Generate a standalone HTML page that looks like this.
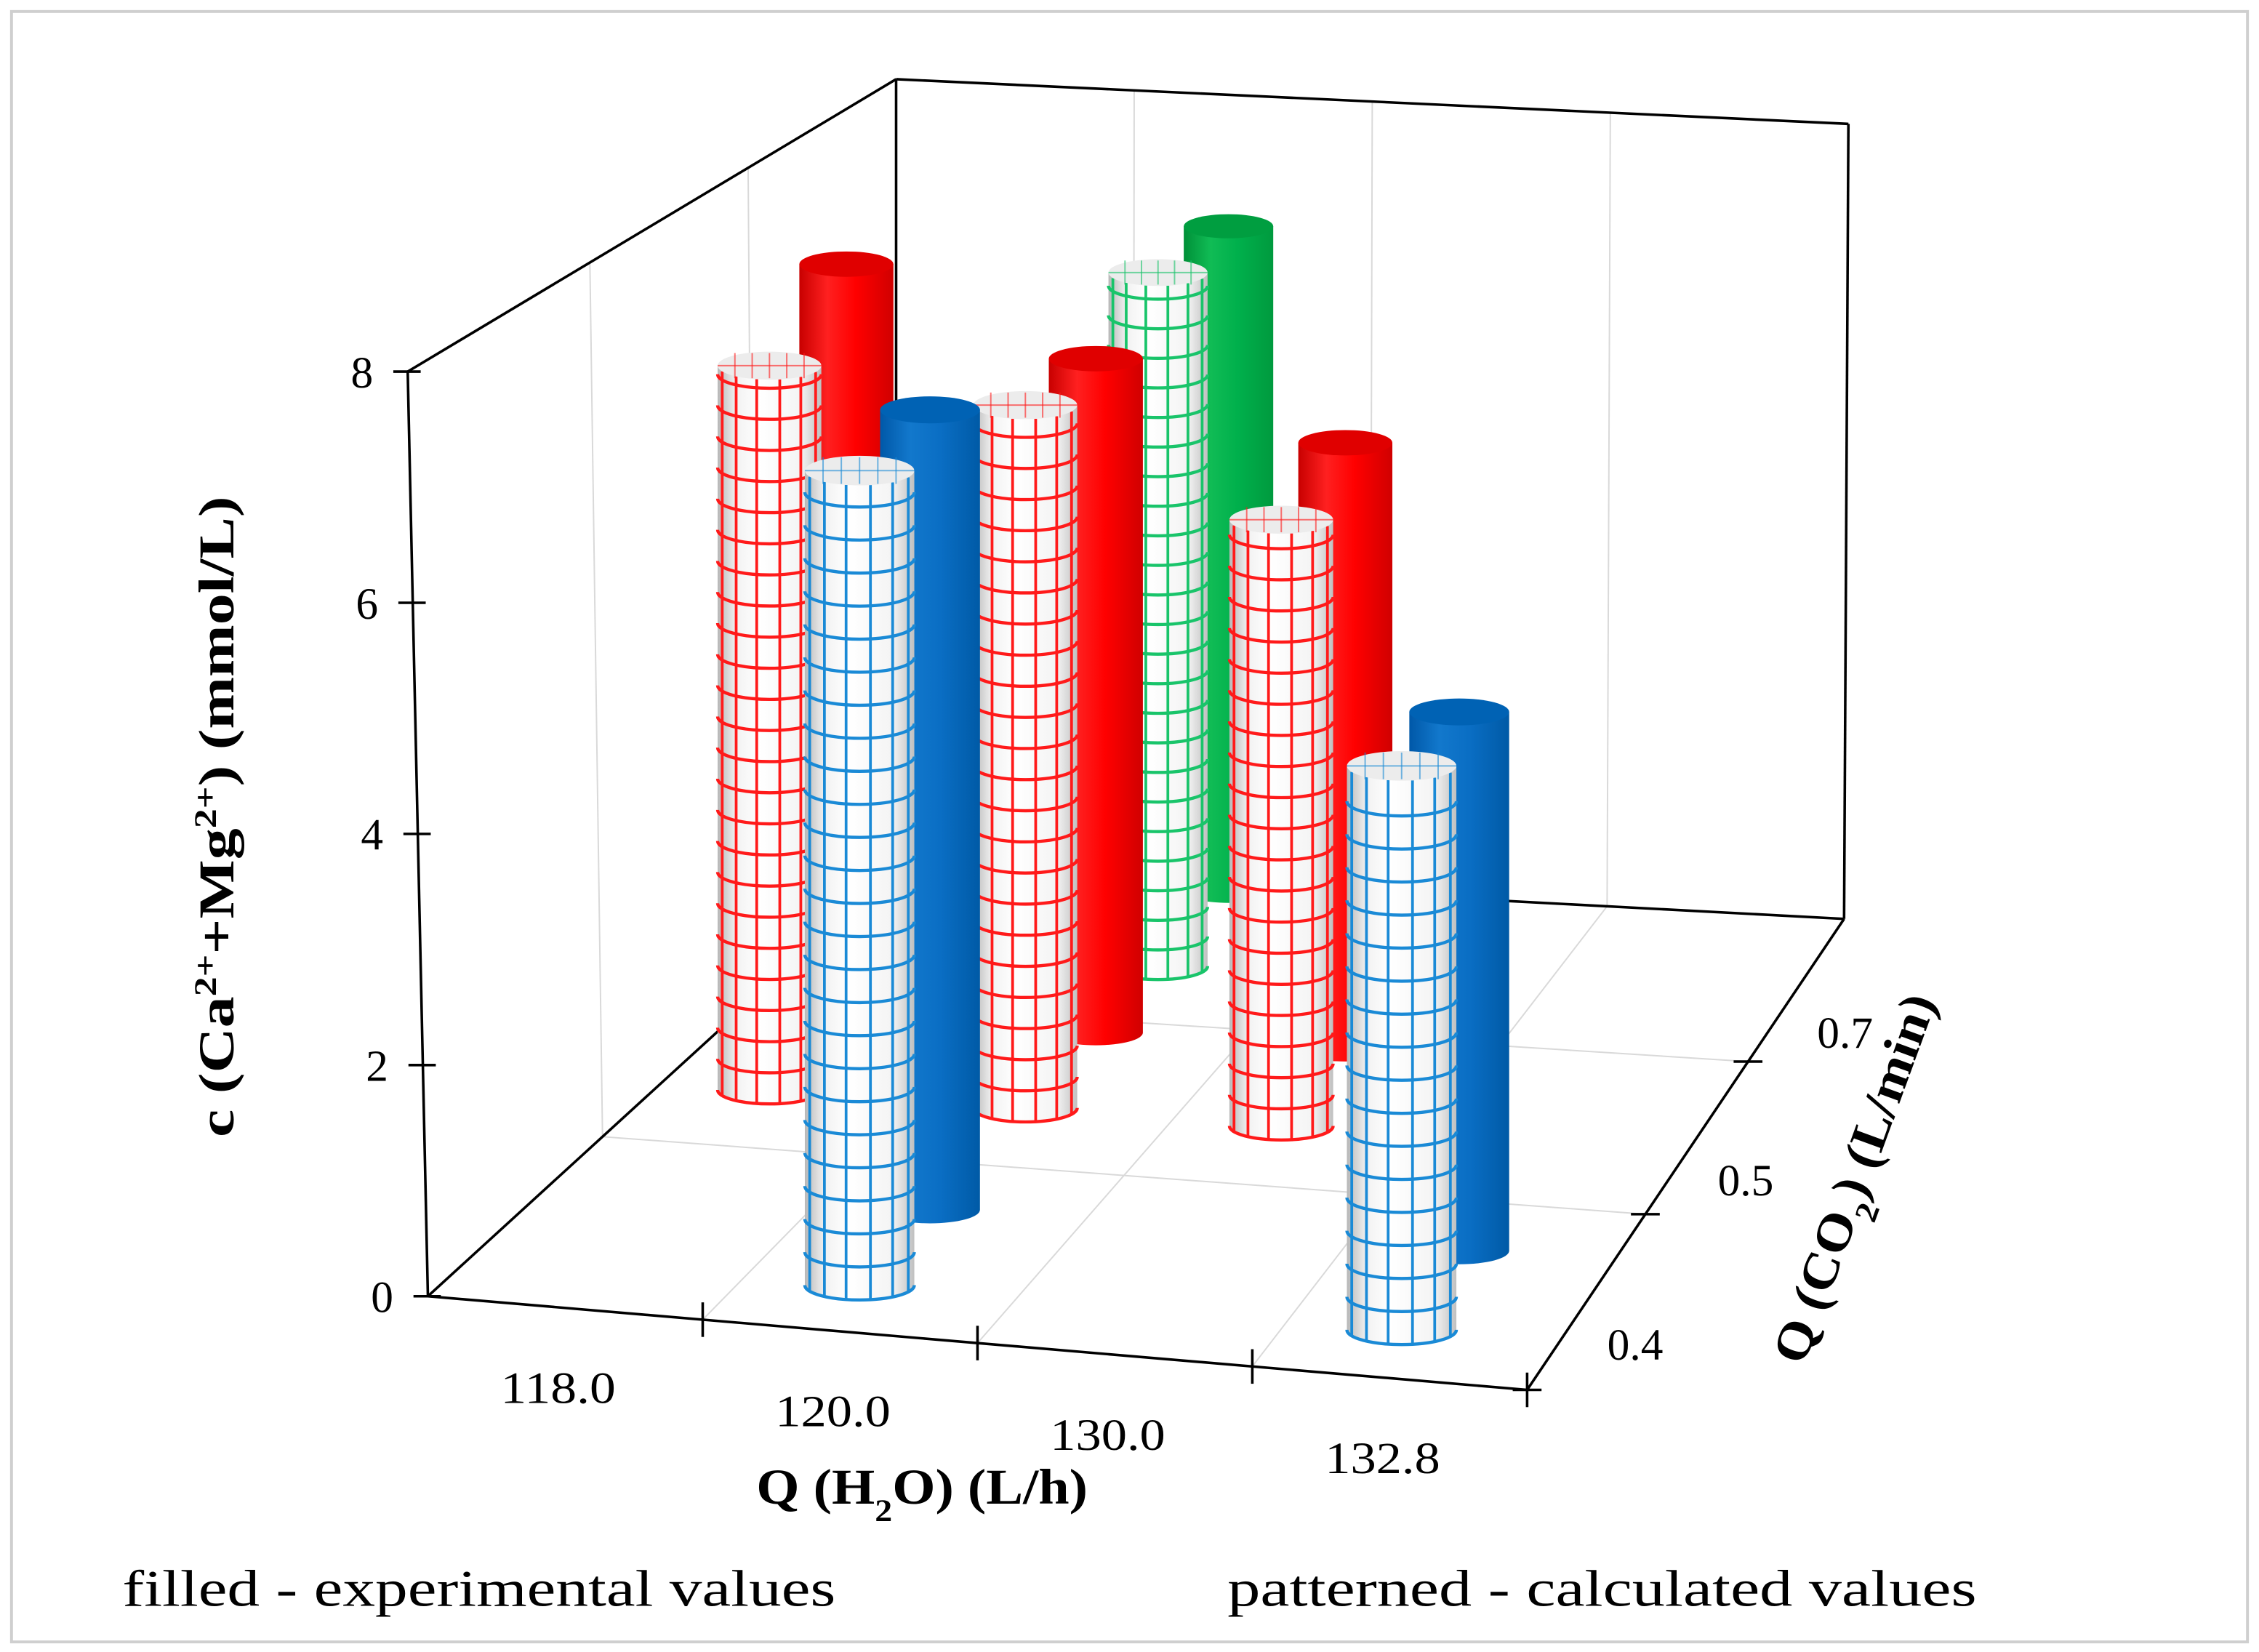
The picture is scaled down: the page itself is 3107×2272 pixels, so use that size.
<!DOCTYPE html>
<html><head><meta charset="utf-8">
<style>
html,body{margin:0;padding:0;background:#fff;}
svg{display:block;}
text{font-family:"Liberation Serif",serif;fill:#000;}
</style></head>
<body>
<svg id="chart" width="3107" height="2272" viewBox="0 0 1568 1147" preserveAspectRatio="none" xmlns="http://www.w3.org/2000/svg">
<defs>
<linearGradient id="gRed" x1="0" x2="1" y1="0" y2="0"><stop offset="0" stop-color="#c80000"/><stop offset="0.3" stop-color="#ff2020"/><stop offset="0.6" stop-color="#ff0000"/><stop offset="1" stop-color="#d00000"/></linearGradient>
<linearGradient id="gBlue" x1="0" x2="1" y1="0" y2="0"><stop offset="0" stop-color="#0058a8"/><stop offset="0.3" stop-color="#1278cc"/><stop offset="0.6" stop-color="#0a6ec4"/><stop offset="1" stop-color="#005aa6"/></linearGradient>
<linearGradient id="gGreen" x1="0" x2="1" y1="0" y2="0"><stop offset="0" stop-color="#009038"/><stop offset="0.3" stop-color="#10bc55"/><stop offset="0.6" stop-color="#00b04c"/><stop offset="1" stop-color="#009a3e"/></linearGradient>
<linearGradient id="gWhite" x1="0" x2="1" y1="0" y2="0"><stop offset="0" stop-color="#b8b8b8"/><stop offset="0.18" stop-color="#f2f2f2"/><stop offset="0.4" stop-color="#ffffff"/><stop offset="0.8" stop-color="#f4f4f4"/><stop offset="1" stop-color="#c0c0c0"/></linearGradient>
</defs>
<rect x="8" y="8" width="1552" height="1132" fill="#fff" stroke="#cfcfcf" stroke-width="2"/>
<g id="grid"></g>
<g id="frame"></g>
<g id="bars"></g>
<g id="labels"></g>
<text transform="translate(162,567) rotate(-90)" text-anchor="middle" font-size="35" font-weight="bold" textLength="445" lengthAdjust="spacingAndGlyphs">c (Ca<tspan baseline-shift="super" font-size="22">2+</tspan>+Mg<tspan baseline-shift="super" font-size="22">2+</tspan>) (mmol/L)</text>
<text x="640" y="1044" text-anchor="middle" font-size="35" font-weight="bold" textLength="230" lengthAdjust="spacingAndGlyphs">Q (H<tspan baseline-shift="sub" font-size="22">2</tspan>O) (L/h)</text>
<text transform="translate(1298,822) rotate(-70)" text-anchor="middle" font-size="35" font-weight="bold" textLength="270" lengthAdjust="spacingAndGlyphs">Q (CO<tspan baseline-shift="sub" font-size="22">2</tspan>) (L/min)</text>
<text x="85" y="1115" font-size="36" textLength="495" lengthAdjust="spacingAndGlyphs">filled - experimental values</text>
<text x="852" y="1115" font-size="36" textLength="520" lengthAdjust="spacingAndGlyphs">patterned - calculated values</text>
</svg>
<script>
// ---- data ----
const categories = ['118.0','120.0','130.0','132.8'];
const depthLabels = ['0.4','0.5','0.7'];
const yTicks = [0,2,4,6,8];
const cellCat = [0,1,1,1,2,3];
const cellRow = [1,0,1,2,1,0];
const calculatedValues = [6.75,7.15,6.55,6.8,5.65,4.95];
const experimentalValues = [7.2,7.2,6.45,6.7,5.8,4.85];

// ---- geometry (layout) ----
const NS='http://www.w3.org/2000/svg';
const FLB=[297,900],FRB=[1060,965],BRB=[1280,638],BLB=[622,603];
const FLT=[283,258],BLT=[622,55],BRT=[1283,86];
const rowPos=[0.10,0.50,0.82];
const rowBounds=[0.373,0.697];
const rowColors=['Blue','Red','Green'];
const lineColors=['#1a8ad6','#ff1a1a','#19c46a'];
const YMAX=8;
function P(u,v){return [
 (1-u)*(1-v)*FLB[0]+u*(1-v)*FRB[0]+u*v*BRB[0]+(1-u)*v*BLB[0],
 (1-u)*(1-v)*FLB[1]+u*(1-v)*FRB[1]+u*v*BRB[1]+(1-u)*v*BLB[1]];}
function scaleAt(v){return (642-92*v)/YMAX;}
function yAxis(val){return 900-val*642/YMAX;}
function yAxisX(val){return 297-val*14/YMAX;}
function mk(tag,attrs,parent){const e=document.createElementNS(NS,tag);for(const k in attrs)e.setAttribute(k,attrs[k]);parent.appendChild(e);return e;}
const grid=document.getElementById('grid'),frame=document.getElementById('frame'),bars=document.getElementById('bars'),labels=document.getElementById('labels');
function line(a,b,parent,stroke,w,name){const l=mk('line',{x1:a[0],y1:a[1],x2:b[0],y2:b[1],stroke:stroke,'stroke-width':w},parent);

return l;}
function lerp(a,b,t){return [a[0]+(b[0]-a[0])*t,a[1]+(b[1]-a[1])*t];}

// grid lines
const gc='#d9d9d9';
for(let i=1;i<categories.length;i++){const u=i/categories.length;
 line(P(u,0),P(u,1),grid,gc,1,'floor-gridline-x');
 const bb=lerp(BLB,BRB,u),bt=lerp(BLT,BRT,u);line(bb,bt,grid,gc,1,'back-wall-gridline');}
rowBounds.forEach(v=>{line(P(0,v),P(1,v),grid,gc,1,'floor-gridline-depth');
 const lb=lerp(FLB,BLB,v),lt=lerp(FLT,BLT,v);line(lb,lt,grid,gc,1,'side-wall-gridline');});

// frame
const K='#000',W=1.8;
line(FLB,FLT,frame,K,W,'y-axis-line');
line(FLT,BLT,frame,K,W,'left-wall-top-edge');
line(BLT,BRT,frame,K,W,'back-wall-top-edge');
line(BLT,BLB,frame,K,W,'back-left-edge');
line(BRT,BRB,frame,K,W,'back-right-edge');
line(BLB,BRB,frame,K,W,'back-floor-edge');
line(FLB,BLB,frame,K,W,'left-floor-edge');
line(FLB,FRB,frame,K,W,'x-axis-line');
line(FRB,BRB,frame,K,W,'depth-axis-line');

// y ticks
yTicks.forEach(t=>{const y=yAxis(t),x=yAxisX(t);
 line([x-10,y],[x+9,y],frame,K,W,'y-tick');
 const tx=mk('text',{x:x-24,y:y+11,'text-anchor':'end','font-size':31},labels);tx.textContent=t;
 
 });
// x ticks & labels
for(let i=1;i<=categories.length;i++){const p=lerp(FLB,FRB,i/categories.length);
 line([p[0],p[1]-12],[p[0],p[1]+12],frame,K,W,'x-tick');}
categories.forEach((c,i)=>{const p=lerp(FLB,FRB,(i+0.5)/categories.length);
 const tx=mk('text',{x:p[0]-5,y:p[1]+66,'text-anchor':'middle','font-size':31,textLength:80,lengthAdjust:'spacingAndGlyphs'},labels);tx.textContent=c;
 
 });
// depth ticks & labels
const dT=[0,...rowBounds,1];
dT.forEach((v,k)=>{if(k===dT.length-1)return;const p=lerp(FRB,BRB,v);line([p[0]-10,p[1]],[p[0]+10,p[1]],frame,K,W,'depth-tick');});
depthLabels.forEach((d,j)=>{const v=(dT[j]+dT[j+1])/2;const p=lerp(FRB,BRB,v);
 const tx=mk('text',{x:p[0]+34,y:p[1]+40,'text-anchor':'middle','font-size':31},labels);tx.textContent=d;
 
 });

// bars
const items=[];
cellCat.forEach((c,k)=>{const u=(c+0.5)/categories.length-0.02;const r=cellRow[k];const v=rowPos[r];
 items.push({u:u,v:v+0.17,val:experimentalValues[k],row:r,pat:false});
 items.push({u:u,v:v,val:calculatedValues[k],row:r,pat:true});});
items.sort((a,b)=>b.v-a.v||a.u-b.u);
items.forEach(it=>{
 const b=P(it.u,it.v);const rx=(it.pat?38.5:36)-5*it.v;const ry=rx*0.27;
 const h=it.val*scaleAt(it.v);const cx=b[0],by=b[1],ty=by-h;
 const g=mk('g',{},bars);
 
 
 const fill=it.pat?'url(#gWhite)':'url(#g'+rowColors[it.row]+')';
 mk('path',{d:`M${cx-rx},${ty} L${cx-rx},${by} A${rx} ${ry} 0 0 0 ${cx+rx},${by} L${cx+rx},${ty} Z`,fill:fill},g);
 const lc=lineColors[it.row];
 if(it.pat){
  const N=14;
  for(let k=0;k<N;k++){const th=k*2*Math.PI/N+0.2;if(Math.cos(th)<=0.05)continue;const x=cx+rx*Math.sin(th);const dy=ry*Math.cos(th);
   mk('line',{x1:x,y1:ty+dy,x2:x,y2:by+dy,stroke:lc,'stroke-width':1.9},g);}
  const step=0.29*scaleAt(it.v);
  for(let y=by;y>ty+2;y-=step){mk('path',{d:`M${cx-rx},${y} A${rx} ${ry} 0 0 0 ${cx+rx},${y}`,fill:'none',stroke:lc,'stroke-width':2.2},g);}
  mk('ellipse',{cx:cx,cy:ty,rx:rx,ry:ry,fill:'#ececec'},g);
  for(let k=-2;k<=2;k++){mk('line',{x1:cx+k*rx/3,y1:ty-ry*0.9,x2:cx+k*rx/3,y2:ty+ry*0.9,stroke:lc,'stroke-width':1,opacity:0.6},g);}
  mk('line',{x1:cx-rx,y1:ty,x2:cx+rx,y2:ty,stroke:lc,'stroke-width':1,opacity:0.6},g);
 }else{
  const tc={Red:'#e00000',Blue:'#0062b4',Green:'#009e40'}[rowColors[it.row]];
  mk('ellipse',{cx:cx,cy:ty,rx:rx,ry:ry,fill:tc},g);
 }
});
</script>
</body></html>
